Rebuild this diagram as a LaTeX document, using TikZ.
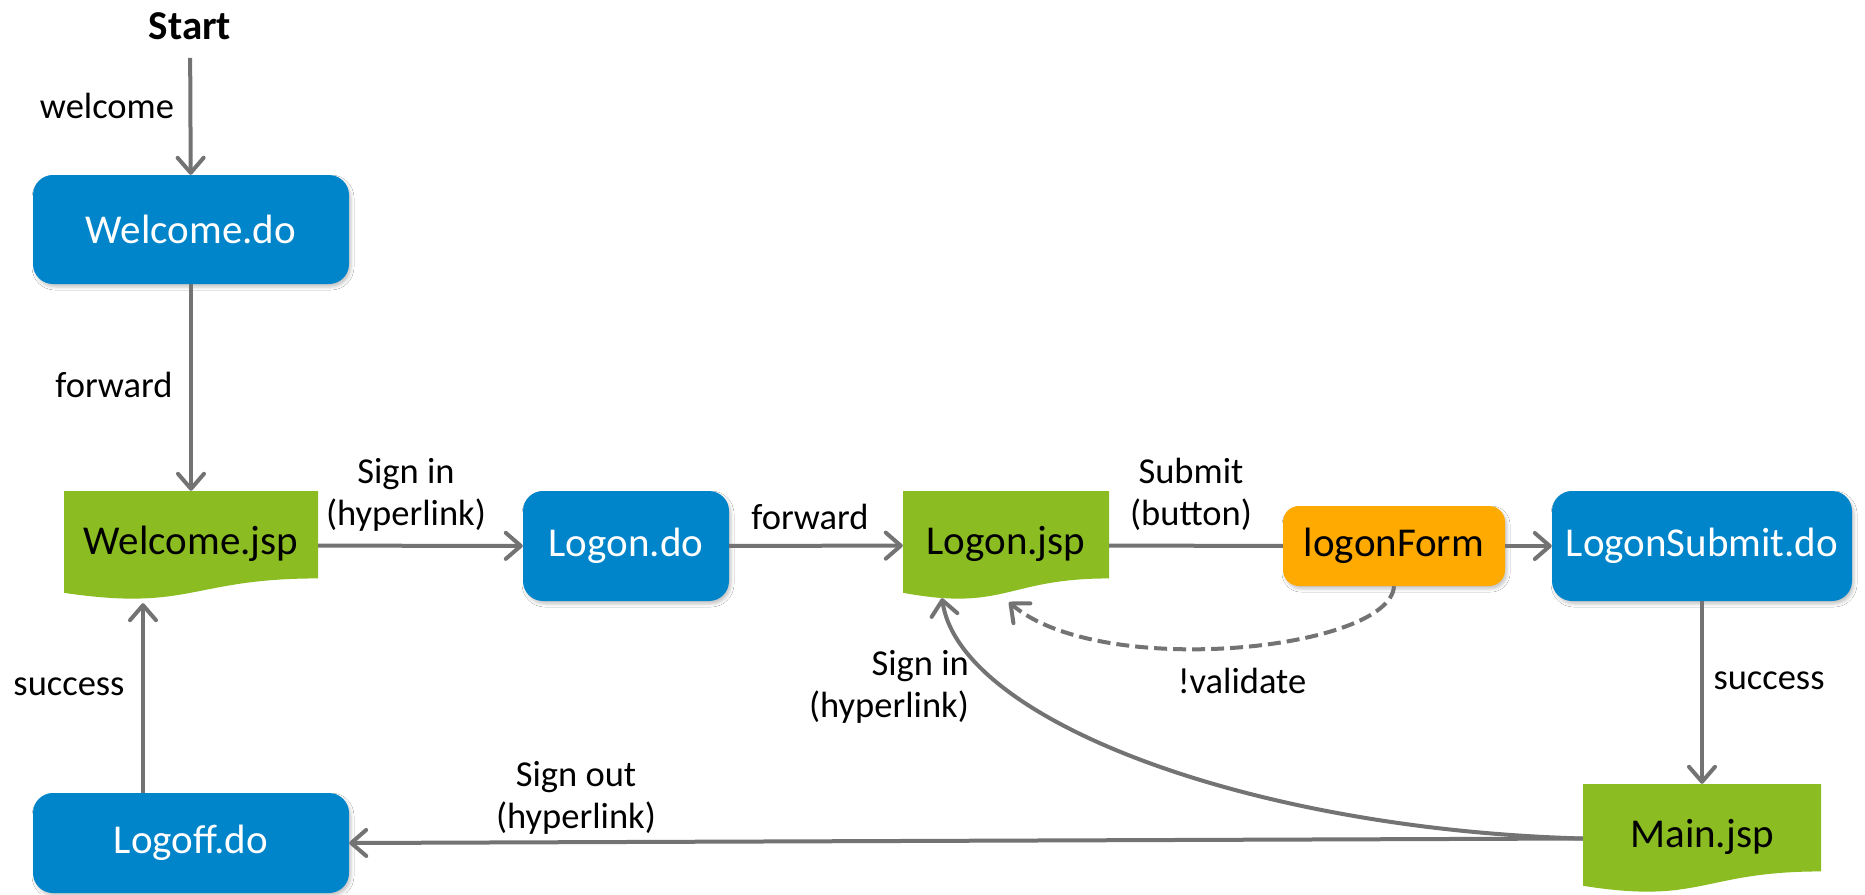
\documentclass[tikz,border=0pt]{standalone}
\usepackage{fontspec}
\setmainfont{Carlito}
\usetikzlibrary{arrows.meta,calc,shadows.blur}

\definecolor{actblue}{RGB}{0,132,202}
\definecolor{jspgreen}{RGB}{139,188,33}
\definecolor{formorange}{RGB}{255,170,0}
\definecolor{flowgray}{RGB}{115,115,115}

\newcommand{\boxfont}{\fontsize{41}{49}\selectfont}
\newcommand{\lblfont}{\fontsize{36.5}{42}\selectfont}

\tikzset{
  softshadow/.style={blur shadow={shadow xshift=2pt, shadow yshift=-3pt,
      shadow blur radius=3pt, shadow opacity=22}},
  actionbox/.style={rounded corners=20pt, fill=actblue, text=white, font=\boxfont,
      inner sep=0pt, softshadow},
  formbox/.style={rounded corners=16pt, fill=formorange, text=black, font=\boxfont,
      inner sep=0pt, softshadow},
  % page with a wavy lower edge
  jsppage/.style={minimum height=109pt, inner sep=0pt, font=\boxfont, text=black,
    path picture={
      \fill[jspgreen] (path picture bounding box.north west)
        -- (path picture bounding box.north east)
        -- ($(path picture bounding box.north east)!0.802!(path picture bounding box.south east)$)
        .. controls ($(path picture bounding box.north)!0.802!(path picture bounding box.south)$)
        and ($(path picture bounding box.north)!1.1075!(path picture bounding box.south)$)
        .. ($(path picture bounding box.north west)!0.934!(path picture bounding box.south west)$)
        -- cycle;
    }},
  link/.style={draw=flowgray, line width=4pt},
  flow/.style={link, -{Straight Barb[length=15pt,width=26pt,round]}},
  % labels are placed by the baseline of their last line
  lbl/.style={font=\lblfont, inner sep=0pt, anchor=base, text=black},
  starttitle/.style={font=\boxfont\bfseries, inner sep=0pt},
}

\begin{document}
\begin{tikzpicture}[x=1pt,y=-1pt]
\fill[white] (0,0) rectangle (1865,894);
\useasboundingbox (0,0) rectangle (1865,894);

% nodes
\node[starttitle] (start) at (190,26) {Start};
\node[actionbox, minimum width=316pt, minimum height=109pt] (wdo) at (191,229.5) {Welcome.do};
\node[jsppage, minimum width=254pt] (wjsp) at (191,545.5) {\raisebox{10pt}{Welcome.jsp}};
\node[actionbox, minimum width=206pt, minimum height=110pt] (ldo) at (626,546) {Logon.do};
\node[jsppage, minimum width=206pt] (ljsp) at (1006,545.5) {\raisebox{10pt}{Logon.jsp}};
\node[formbox, minimum width=222pt, minimum height=80pt] (form) at (1394,546) {logonForm};
\node[actionbox, minimum width=300pt, minimum height=110pt] (lsdo) at (1702,546) {LogonSubmit.do};
\node[jsppage, minimum width=238pt] (mjsp) at (1702,838.5) {\raisebox{10pt}{Main.jsp}};
\node[actionbox, minimum width=316pt, minimum height=100pt] (lodo) at (191,843) {Logoff.do};

% connectors
\draw[flow, shorten <=18pt] (start) -- (wdo);
\draw[flow] (wdo) -- (wjsp);
\draw[flow] (wjsp) -- (ldo);
\draw[flow] (ldo) -- (ljsp);
\draw[link] (ljsp) -- (form);
\draw[flow] (form) -- (lsdo);
\draw[flow] (lsdo) -- (mjsp);
\draw[flow] (mjsp.west) -- (lodo.east);
\draw[flow] ($(lodo.north)+(-48,0)$) -- ($(wjsp.south)+(-48,3)$);
\draw[flow] (mjsp.west) .. controls +(-333,-9) and +(18,122) .. ($(ljsp.south)+(-64,-2)$);
\draw[flow, dash pattern=on 13pt off 6pt] (form.south) .. controls +(-4,64) and +(91,78) .. ($(ljsp.south)+(3,2)$);

% connector labels
\node[lbl] (lwelcome) at (107,118) {welcome};
\node[lbl] (lfwd1) at (114,397) {forward};
\node[lbl, align=center] (lsignin1) at (406,525) {Sign in\\(hyperlink)};
\node[lbl] (lfwd2) at (810,529) {forward};
\node[lbl, align=center] (lsubmit) at (1191,525) {Submit\\(button)};
\node[lbl] (lsucc1) at (1769,689) {success};
\node[lbl] (lvalid) at (1242,693) {!validate};
\node[lbl, align=right] (lsignin2) at (889,717) {Sign in\\(hyperlink)};
\node[lbl] (lsucc2) at (69,695) {success};
\node[lbl, align=center] (lsignout) at (576,828) {Sign out\\(hyperlink)};
\end{tikzpicture}
\end{document}
